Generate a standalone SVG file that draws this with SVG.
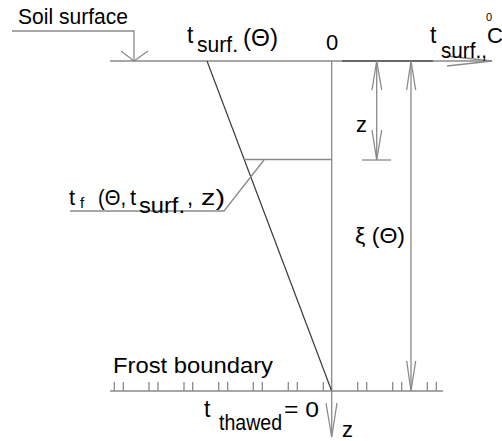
<svg xmlns="http://www.w3.org/2000/svg" width="502" height="441" viewBox="0 0 502 441">
<style>
.g{stroke:#8a8a8a;stroke-width:1.3;fill:none}
.d{stroke:#3a3a3a;stroke-width:1.2;fill:none}
.k{stroke:#555;stroke-width:1.3;fill:none}
text{font-family:"Liberation Sans",Arial,sans-serif;fill:#000;font-size:22px}
</style>
<rect width="502" height="441" fill="#fff"/>
<g id="connectors">
  <path class="g" d="M12,31 H134 V61"/>
  <path class="g" d="M121,51 L134,61 L148,51"/>
  <path class="g" d="M110,61 H492"/>
  <path class="k" d="M342,61 H433"/>
  <path class="g" d="M447,56 L492,61 L447,66"/>
  <path class="g" d="M331.7,61 V437"/>
  <path class="g" d="M326,403 L331.7,437 L337,403"/>
  <path class="d" d="M207,61 L331.7,391"/>
  <path class="g" d="M244,159.5 H331.7"/>
  <path class="g" d="M70,211 H224 L264,160"/>
  <path class="g" d="M376.7,61 V160"/>
  <path class="g" d="M372,90 L376.7,61 L381.7,90"/>
  <path class="g" d="M372,130 L376.7,160 L381.7,130"/>
  <path class="g" d="M362,160 H391"/>
  <path class="g" d="M411,61 V391"/>
  <path class="g" d="M406.7,90 L411,61 L415.7,90"/>
  <path class="g" d="M406.7,361 L411,391 L415.7,361"/>
  <path class="g" d="M110,391 H443"/>
  <path class="g" stroke-width="1" d="M114.3,382 V391 M123.3,382 V391 M149,382 V391 M158,382 V391 M184,382 V391 M192.7,382 V391 M218.7,382 V391 M227.7,382 V391 M253.3,382 V391 M262.3,382 V391 M288.3,382 V391 M297.3,382 V391 M323.3,382 V391 M357.7,382 V391 M366.7,382 V391 M392.7,382 V391 M401.7,382 V391 M427.3,382 V391 M436.3,382 V391"/>
</g>
<g id="soil-surface"><text x="18" y="24" font-size="20" textLength="110" lengthAdjust="spacingAndGlyphs">Soil surface</text></g>
<g id="t-surf-theta"><text><tspan x="187" y="43" font-size="23">t</tspan><tspan x="197" y="52" textLength="41" lengthAdjust="spacingAndGlyphs">surf.</tspan><tspan x="243" y="46" font-size="23" textLength="35" lengthAdjust="spacingAndGlyphs">(Θ)</tspan></text></g>
<g id="zero"><text x="326" y="50">0</text></g>
<g id="axis-label"><text><tspan x="430" y="43" font-size="23">t</tspan><tspan x="441" y="58" textLength="46" lengthAdjust="spacingAndGlyphs">surf.,</tspan><tspan x="486" y="21" font-size="11">0</tspan><tspan x="487" y="43">C</tspan></text></g>
<g id="z-label"><text x="356" y="131.5" font-size="23">z</text></g>
<g id="xi-label"><text x="355" y="243" font-size="23" textLength="50" lengthAdjust="spacingAndGlyphs">ξ (Θ)</text></g>
<g id="tf-label"><text font-size="24"><tspan x="69" y="205">t</tspan><tspan x="80" y="208" font-size="15">f</tspan><tspan x="98" y="205" textLength="28" lengthAdjust="spacingAndGlyphs">(Θ,</tspan><tspan x="130" y="205">t</tspan><tspan x="139" y="213" font-size="22" textLength="46" lengthAdjust="spacingAndGlyphs">surf.</tspan><tspan x="187" y="205">,</tspan><tspan x="201" y="205" textLength="24" lengthAdjust="spacingAndGlyphs">z)</tspan></text></g>
<g id="frost-boundary"><text x="113" y="372.5" font-size="23" textLength="160" lengthAdjust="spacingAndGlyphs">Frost boundary</text></g>
<g id="t-thawed"><text><tspan x="204" y="416.5" font-size="23">t</tspan><tspan x="219" y="430" textLength="63" lengthAdjust="spacingAndGlyphs">thawed</tspan><tspan x="284" y="416.5" textLength="35" lengthAdjust="spacingAndGlyphs">= 0</tspan></text></g>
<g id="z-axis-label"><text x="342" y="437">z</text></g>
</svg>
